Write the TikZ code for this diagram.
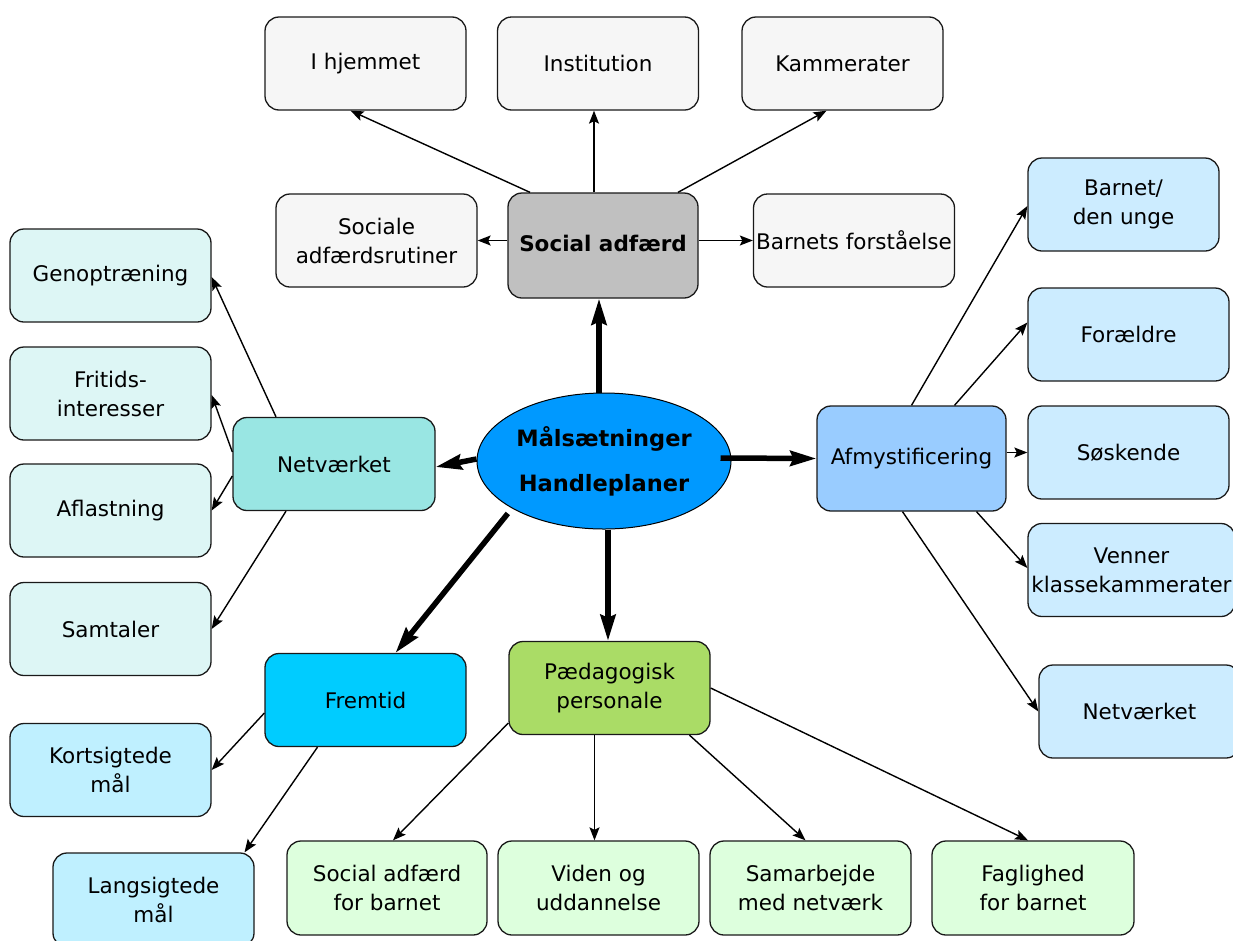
\documentclass[tikz,border=0pt]{standalone}
\usepackage{fontspec}
\setmainfont{DejaVu Sans}
\usetikzlibrary{shapes.geometric,arrows.meta}
\definecolor{cTop}{HTML}{F6F6F6}
\definecolor{cSoc}{HTML}{C0C0C0}
\definecolor{cEll}{HTML}{0099FF}
\definecolor{cAfm}{HTML}{99CCFF}
\definecolor{cRight}{HTML}{CCECFF}
\definecolor{cNet}{HTML}{99E6E3}
\definecolor{cLeft}{HTML}{DDF6F5}
\definecolor{cFrem}{HTML}{00CCFF}
\definecolor{cSigt}{HTML}{BFF0FF}
\definecolor{cPaed}{HTML}{AADC66}
\definecolor{cGreen}{HTML}{DDFFDD}
\begin{document}
\begin{tikzpicture}[x=1pt,y=-1pt,
  box/.style={draw=black!90, line width=1.3pt, rounded corners=14pt,
    minimum width=201pt, minimum height=93pt, inner sep=0pt, align=center,
    font=\fontsize{21.5}{29}\selectfont},
  thinarr/.style={line width=1.4pt, -{Stealth[length=13pt,width=10pt,inset=2.5pt]}},
  thickarr/.style={line width=5.5pt, -{Stealth[length=26pt,width=15pt,inset=3pt]}},
]
\useasboundingbox (0,0) rectangle (1233,940);

% top row
\node[box, fill=cTop] (ih) at (365.5,63.5) {I hjemmet};
\node[box, fill=cTop] (inst) at (598,63.5) {Institution};
\node[box, fill=cTop] (kam) at (842.5,63.5) {Kammerater};
\node[box, fill=cTop] (sar) at (376.5,240.5) {Sociale\\adfærdsrutiner};
\node[box, fill=cSoc, minimum width=190pt, minimum height=105pt] (sa) at (603,245.5) {\raisebox{5pt}{\bfseries Social adfærd}};
\node[box, fill=cTop] (bf) at (854,240.5) {Barnets forståelse};

% center
\node[ellipse, draw=black, line width=1pt, fill=cEll, minimum width=254pt, minimum height=136pt, inner sep=0pt, align=center, font=\fontsize{22.5}{45}\selectfont\bfseries] (ell) at (604,461) {Målsætninger\\Handleplaner};

% right
\node[box, fill=cAfm, minimum width=189pt, minimum height=105pt] (af) at (911.5,458.5) {Afmystificering};
\node[box, fill=cRight, minimum width=191pt] (bu) at (1123.5,204.5) {Barnet/\\den unge};
\node[box, fill=cRight] (fo) at (1128.5,334.5) {Forældre};
\node[box, fill=cRight] (so) at (1128.5,452.5) {Søskende};
\node[box, fill=cRight, minimum width=207pt] (ve) at (1131.5,570) {Venner\\klassekammerater};
\node[box, fill=cRight] (nr) at (1139.5,711.5) {Netværket};

% left
\node[box, fill=cNet, minimum width=202pt] (nl) at (334,464) {Netværket};
\node[box, fill=cLeft] (ge) at (110.5,275.5) {Genoptræning};
\node[box, fill=cLeft] (fi) at (110.5,393.5) {Fritids-\\interesser};
\node[box, fill=cLeft] (afl) at (110.5,510.5) {Aflastning};
\node[box, fill=cLeft] (sm) at (110.5,629) {Samtaler};

% bottom left
\node[box, fill=cFrem] (fr) at (365.5,700) {Fremtid};
\node[box, fill=cSigt] (ks) at (110.5,770) {Kortsigtede\\mål};
\node[box, fill=cSigt, minimum height=94pt] (ls) at (153.5,900) {Langsigtede\\mål};

% bottom
\node[box, fill=cPaed] (pp) at (609.5,688) {Pædagogisk\\personale};
\node[box, fill=cGreen, minimum width=200pt, minimum height=94pt] (sb) at (387,888) {Social adfærd\\for barnet};
\node[box, fill=cGreen, minimum height=94pt] (vu) at (598.5,888) {Viden og\\uddannelse};
\node[box, fill=cGreen, minimum height=94pt] (sn) at (810.5,888) {Samarbejde\\med netværk};
\node[box, fill=cGreen, minimum width=202pt, minimum height=94pt] (fb) at (1033,888) {Faglighed\\for barnet};

% connectors from Social adfærd
\draw[thinarr] ([xshift=-73pt]sa.north) -- ([xshift=-15pt]ih.south);
\draw[thinarr] ([xshift=-9pt]sa.north) -- ([xshift=-4pt]inst.south);
\draw[thinarr] ([xshift=75pt]sa.north) -- ([xshift=-16pt]kam.south);
\draw[thinarr] ([yshift=5pt]sa.west) -- (sar.east);
\draw[thinarr] ([yshift=5pt]sa.east) -- (bf.west);

% thick connectors from center
\draw[thickarr] ([xshift=-5pt]ell.north) -- ([xshift=-4pt]sa.south);
\draw[thickarr] ([yshift=2pt]ell.west) -- ([yshift=-3pt]nl.east);
\draw[thickarr] ([xshift=-11pt,yshift=3pt]ell.east) -- (af.west);
\draw[thickarr] ([xshift=-6pt,yshift=-4pt]ell.south west) -- ([xshift=30pt]fr.north);
\draw[thickarr] ([xshift=4pt]ell.south) -- ([xshift=-1.5pt]pp.north);

% Afmystificering
\draw[thinarr] (af.north) -- ([yshift=-1.5pt]bu.west);
\draw[thinarr] ([xshift=43pt]af.north) -- ([yshift=12pt]fo.west);
\draw[thinarr] ([yshift=6pt]af.east) -- (so.west);
\draw[thinarr] ([xshift=65pt]af.south) -- ([yshift=2pt]ve.west);
\draw[thinarr] ([xshift=-9pt]af.south) -- (nr.west);

% Netværket left
\draw[thinarr] ([xshift=-58pt]nl.north) -- ([yshift=-1.5pt]ge.east);
\draw[thinarr] ([yshift=12pt]nl.west) -- ([yshift=-1.5pt]fi.east);
\draw[thinarr] ([yshift=-12pt]nl.west) -- (afl.east);
\draw[thinarr] ([xshift=-48pt]nl.south) -- (sm.east);

% Fremtid
\draw[thinarr] ([yshift=-13pt]fr.west) -- (ks.east);
\draw[thinarr] ([xshift=-48pt]fr.south) -- ([xshift=91pt]ls.north);

% Paedagogisk personale
\draw[thinarr] ([yshift=-35pt]pp.west) -- ([xshift=6pt]sb.north);
\draw[thinarr] ([xshift=-15pt]pp.south) -- ([xshift=-4pt]vu.north);
\draw[thinarr] ([xshift=80pt]pp.south) -- ([xshift=-5pt]sn.north);
\draw[thinarr] (pp.east) -- ([xshift=-5pt]fb.north);
\end{tikzpicture}
\end{document}
